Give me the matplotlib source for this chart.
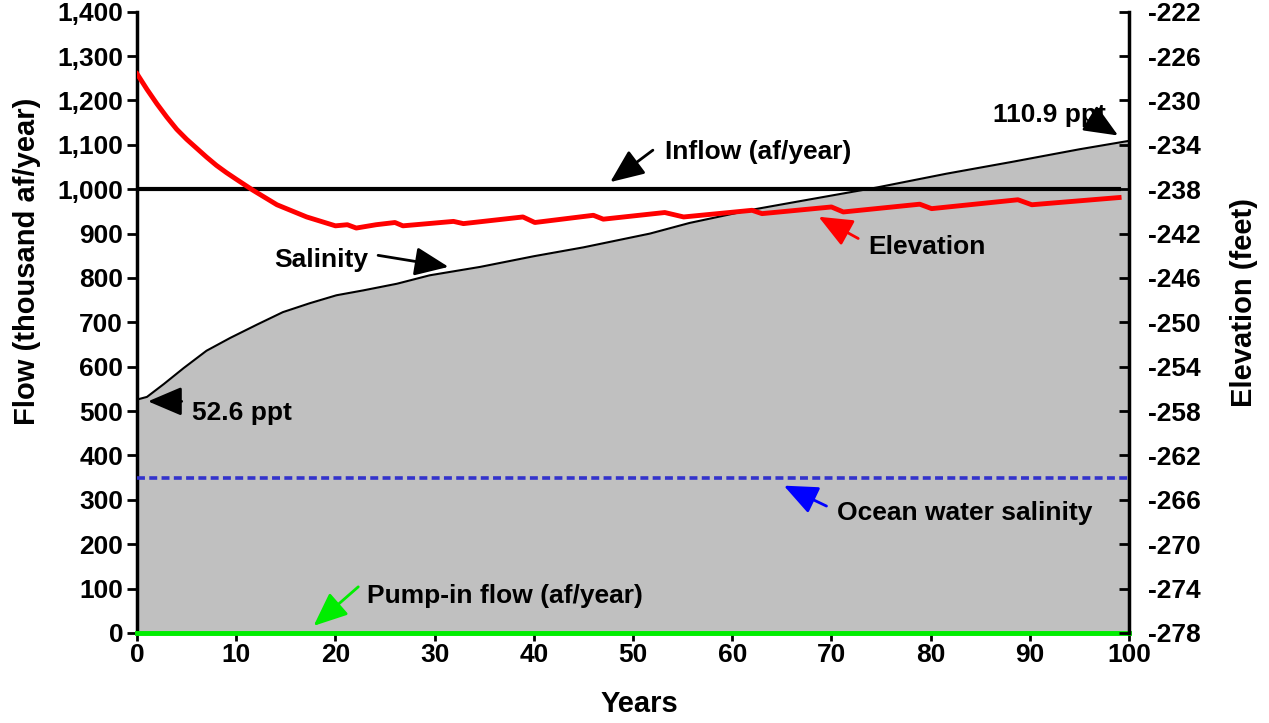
import numpy as np
import matplotlib.pyplot as plt
from matplotlib.ticker import FuncFormatter

plt.rcParams['font.family'] = ['Liberation Sans', 'DejaVu Sans']
plt.rcParams['font.weight'] = 'bold'
plt.rcParams['axes.unicode_minus'] = False

# salinity of the lake (ppt), plotted on the flow axis as ppt x 10
sal_years = [0, 1, 2.7, 4.7, 7, 9.4, 12.1, 14.7, 17.4, 20.1, 22.8, 26.2, 29.5,
             34.6, 40, 45, 51.7, 55.7, 61.8, 66.8, 74.6, 81.6, 88.3, 95, 100]
sal_ppt = [52.6, 53.2, 56.1, 59.7, 63.6, 66.5, 69.5, 72.3, 74.3, 76.1, 77.2, 78.7, 80.6,
           82.5, 84.9, 86.9, 90.0, 92.4, 95.3, 97.3, 100.4, 103.5, 106.2, 109.0, 110.9]

# lake surface elevation (feet)
elev_years = [0, 1, 2, 3, 4, 5, 6, 7, 8, 9, 10, 11.7, 14.1, 17.1, 20, 21.2, 22.1, 24.1,
              26, 26.8, 31.9, 32.9, 38.9, 40.1, 46, 47, 53.2, 55.1, 62, 63, 70, 71.2,
              78.9, 80.1, 88.8, 90.2, 99]
elev_ft = [-227.6, -229.0, -230.3, -231.5, -232.6, -233.5, -234.3, -235.1, -235.85, -236.5,
           -237.1, -238.1, -239.4, -240.5, -241.3, -241.2, -241.5, -241.2, -241.0, -241.3,
           -240.9, -241.1, -240.5, -241.0, -240.35, -240.7, -240.1, -240.5, -239.9, -240.2,
           -239.6, -240.05, -239.35, -239.75, -238.95, -239.4, -238.75]

sim_years = [0, 99]
inflow = [1000, 1000]          # thousand af/year
pump_in = [0, 0]
ocean_ppt = 35.0

fig = plt.figure(figsize=(12.69, 7.23), dpi=100)
ax1 = fig.add_axes([0.108, 0.1245, 0.7817, 0.8593])
ax2 = ax1.twinx()

sal_flow = np.array(sal_ppt) * 10
ax1.fill_between(sal_years, 0, sal_flow, color='#C0C0C0', lw=0, zorder=1)
ax1.plot(sal_years, sal_flow, color='black', lw=1.5, zorder=5)
ax1.plot([0, 100], [ocean_ppt * 10] * 2, color='#3333CC', lw=2.6,
         linestyle=(0, (2.2, 1.2)), zorder=3)
ax1.plot([0, 100], pump_in, color='#00EE00', lw=3.5, zorder=3, clip_on=False)
ax1.plot(sim_years, inflow, color='black', lw=3, zorder=4)

ax2.plot(elev_years, elev_ft, color='#FF0000', lw=3.5, zorder=4)

ax1.set_xlim(0, 100)
ax1.set_ylim(0, 1400)
ax2.set_ylim(-278, -222)
ax1.set_xticks(np.arange(0, 101, 10))
ax1.set_yticks(np.arange(0, 1401, 100))
ax2.set_yticks(np.arange(-278, -221, 4))
ax1.yaxis.set_major_formatter(FuncFormatter(lambda v, p: f'{int(v):,}'))

for ax in (ax1, ax2):
    ax.spines['top'].set_visible(False)
    for s in ax.spines.values():
        s.set_linewidth(2.5)
ax1.spines['right'].set_visible(False)
ax2.spines['left'].set_visible(False)
ax2.spines['bottom'].set_visible(False)
ax1.tick_params(axis='y', labelsize=19, width=2, length=7, direction='out', pad=3)
ax1.tick_params(axis='x', labelsize=19, width=2, length=6, direction='out', pad=1)
ax2.tick_params(axis='y', labelsize=19, width=2, length=7, direction='in', pad=14)

fig.text(0.021, 0.638, 'Flow (thousand af/year)', rotation=90, ha='center', va='center',
         fontsize=21)
fig.text(0.98, 0.582, 'Elevation (feet)', rotation=90, ha='center', va='center',
         fontsize=21)
fig.text(0.504, 0.026, 'Years', ha='center', va='center', fontsize=21)

head = '-|>,head_length=0.8,head_width=0.34'


def note(text, xy, xytext, tx, ty, color='black', ha='left'):
    ax1.annotate('', xy=xy, xytext=xytext,
                 arrowprops=dict(arrowstyle=head, color=color, lw=2,
                                 mutation_scale=26, shrinkA=0, shrinkB=0), zorder=6)
    ax1.text(tx, ty, text, ha=ha, va='center', fontsize=19, zorder=7)


note('Inflow (af/year)', (47.7, 1016), (52.0, 1088), 53.2, 1083)
note('110.9 ppt', (98.9, 1121), (96.1, 1159), 86.3, 1167)
note('Elevation', (68.7, 938), (72.7, 889), 73.7, 870, color='#FF0000')
note('52.6 ppt', (1.1, 522), (4.5, 522), 5.5, 495)
note('Ocean water salinity', (65.2, 332), (69.5, 286), 70.6, 271, color='#0000FF')
note('Pump-in flow (af/year)', (17.8, 16), (22.3, 104), 23.2, 84, color='#00EE00')
note('Salinity', (31.4, 825), (24.3, 851), 23.3, 840, ha='right')

plt.savefig('out.png', dpi=100)
